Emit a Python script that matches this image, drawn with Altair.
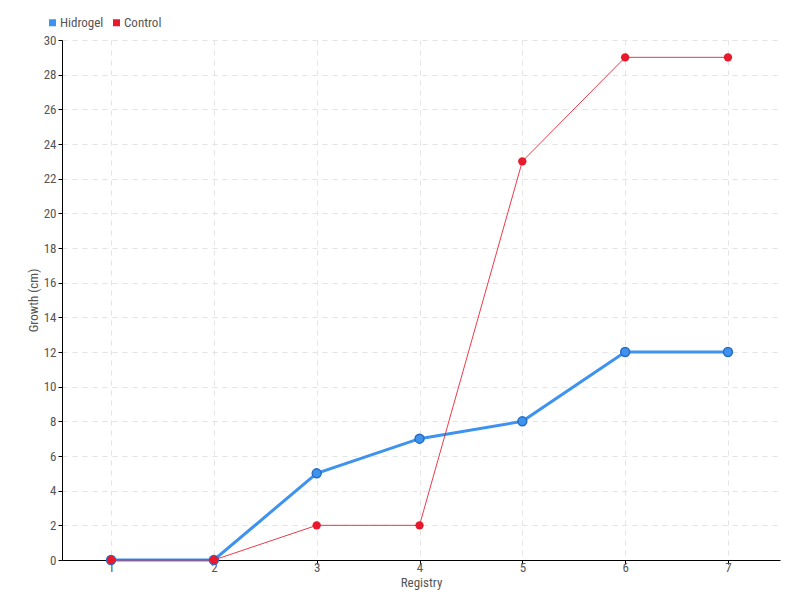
import altair as alt
import pandas as pd

registry = [1, 2, 3, 4, 5, 6, 7]
hidrogel = [0, 0, 5, 7, 8, 12, 12]
control = [0, 0, 2, 2, 23, 29, 29]
series_names = ["Hidrogel", "Control"]
colors = ["#3d93ee", "#e8192c"]

df = pd.DataFrame({
    "Registry": registry * 2,
    "Growth": hidrogel + control,
    "Series": [series_names[0]] * len(registry) + [series_names[1]] * len(registry),
})

font = "Roboto Condensed, DejaVu Sans Condensed, Roboto, sans-serif"

x = alt.X("Registry:Q", title="Registry",
          scale=alt.Scale(domain=[0.523, 7.506], nice=False, zero=False),
          axis=alt.Axis(values=registry, format="d", grid=True, gridDash=[5, 5],
                        gridColor="#e3e3e3", domainColor="#000", tickColor="#000",
                        labelColor="#555", titleColor="#555", labelFontSize=13,
                        titleFontSize=13, titleFontWeight="normal", titlePadding=2,
                        labelPadding=-3, tickSize=4))
y = alt.Y("Growth:Q", title="Growth (cm)",
          scale=alt.Scale(domain=[0, 30], nice=False),
          axis=alt.Axis(values=list(range(0, 31, 2)), grid=True, gridDash=[5, 5],
                        gridColor="#e3e3e3", domainColor="#000", tickColor="#000",
                        labelColor="#555", titleColor="#555", labelFontSize=13,
                        titleFontSize=13, titleFontWeight="normal", titlePadding=3,
                        tickSize=4))
color = alt.Color("Series:N", scale=alt.Scale(domain=series_names, range=colors),
                  legend=alt.Legend(title=None, orient="none", legendX=-16, legendY=-24,
                                    direction="horizontal", symbolType="square",
                                    symbolSize=30, labelFontSize=13, labelColor="#555",
                                    columnPadding=6, labelOffset=1))

base = alt.Chart(df).encode(x=x, y=y, color=color)

hline = base.transform_filter(alt.datum.Series == "Hidrogel").mark_line(strokeWidth=3)
hpts = base.transform_filter(alt.datum.Series == "Hidrogel").mark_point(
    filled=True, size=80, stroke="#2a6cc0", strokeWidth=1.5, opacity=1)
cline = base.transform_filter(alt.datum.Series == "Control").mark_line(strokeWidth=1, opacity=0.85)
cpts = base.transform_filter(alt.datum.Series == "Control").mark_point(
    filled=True, size=70, opacity=1)

chart = alt.layer(hline, hpts, cline, cpts).properties(
    width=718, height=520,
    autosize=alt.AutoSizeParams(type="none"),
    padding={"left": 54, "top": 32, "right": 12, "bottom": 40},
).configure(font=font).configure_view(stroke=None)

chart.save("out.html", embed_options={"renderer": "svg", "actions": False})
